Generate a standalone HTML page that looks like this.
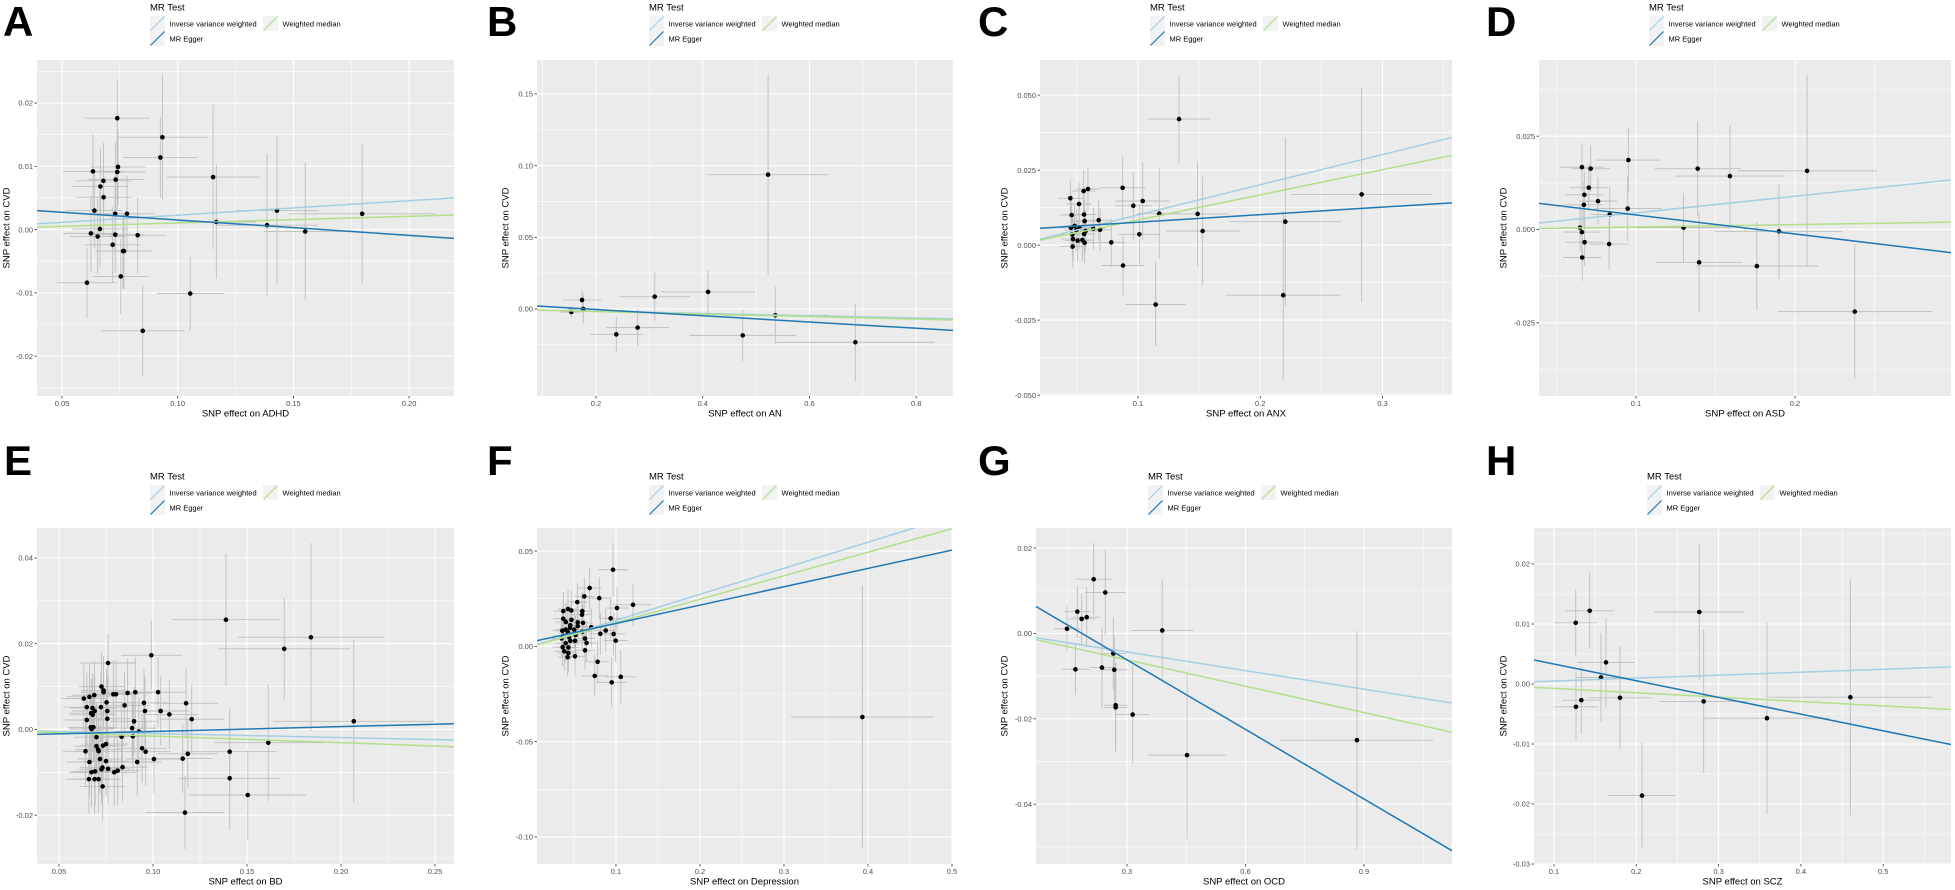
<!DOCTYPE html>
<html><head><meta charset="utf-8"><title>MR scatter plots</title>
<style>
html,body{margin:0;padding:0;background:#fff;}
svg{display:block;font-family:"Liberation Sans",Arial,sans-serif;}
</style></head>
<body>
<svg id="fig" width="1955" height="890" viewBox="0 0 1955 890" xmlns="http://www.w3.org/2000/svg"></svg>
<script>
// ---- Data: [beta_exposure, beta_outcome, x-halfwidth, y-halfwidth]
const adhdPoints = [[0.0739,0.0176,0.014,0.006],[0.0934,0.0146,0.0195,0.0099],[0.0925,0.0114,0.0162,0.0064],[0.1153,0.0083,0.02,0.0114],[0.1167,0.0012,0.017,0.009],[0.1429,0.003,0.018,0.0118],[0.1386,0.0007,0.022,0.0113],[0.1551,-0.0003,0.018,0.0109],[0.1797,0.0025,0.0317,0.0111],[0.1054,-0.0101,0.0144,0.0059],[0.0849,-0.016,0.018,0.0072],[0.0608,-0.0084,0.013,0.0055],[0.0634,0.0092,0.013,0.0058],[0.0666,0.0068,0.012,0.006],[0.0679,0.0077,0.012,0.006],[0.068,0.0051,0.012,0.006],[0.064,0.003,0.012,0.006],[0.0732,0.0079,0.012,0.006],[0.0739,0.0091,0.012,0.006],[0.0742,0.0099,0.012,0.006],[0.073,0.0025,0.012,0.006],[0.0781,0.0025,0.012,0.006],[0.0625,-0.0006,0.012,0.006],[0.0664,0.0001,0.012,0.006],[0.0654,-0.0011,0.012,0.006],[0.073,-0.0008,0.012,0.006],[0.0827,-0.0009,0.012,0.006],[0.0719,-0.0024,0.012,0.006],[0.0764,-0.0034,0.012,0.006],[0.0768,-0.0034,0.012,0.006],[0.0754,-0.0074,0.012,0.006]];
const anPoints = [[0.5224,0.0937,0.112,0.0697],[0.1537,-0.0021,0.02,0.004],[0.1738,0.0063,0.036,0.0065],[0.1762,0,0.03,0.0098],[0.238,-0.0177,0.05,0.012],[0.278,-0.013,0.059,0.013],[0.31,0.0086,0.066,0.0167],[0.41,0.0119,0.088,0.0153],[0.475,-0.0184,0.1,0.018],[0.536,-0.0044,0.1,0.02],[0.686,-0.0232,0.148,0.027]];
const anxPoints = [[0.1336,0.042,0.026,0.0147],[0.2829,0.0169,0.058,0.0357],[0.2205,0.0078,0.046,0.028],[0.2188,-0.0167,0.047,0.028],[0.1145,-0.0198,0.0245,0.014],[0.1488,0.0104,0.026,0.0175],[0.1529,0.0047,0.03,0.018],[0.1174,0.0105,0.018,0.015],[0.0875,0.0191,0.019,0.0107],[0.0962,0.0131,0.015,0.011],[0.1039,0.0147,0.022,0.013],[0.1011,0.0036,0.017,0.01],[0.0878,-0.0068,0.0175,0.01],[0.0782,0.0009,0.012,0.008],[0.0447,0.0156,0.01,0.006],[0.0458,0.01,0.01,0.007],[0.0518,0.0137,0.01,0.007],[0.0556,0.018,0.01,0.007],[0.0591,0.0187,0.01,0.007],[0.0559,0.0102,0.01,0.007],[0.0564,0.008,0.01,0.007],[0.0679,0.0083,0.01,0.007],[0.0452,0.0058,0.01,0.007],[0.0482,0.0064,0.01,0.007],[0.0521,0.0058,0.01,0.007],[0.0463,0.0035,0.01,0.007],[0.0496,0.005,0.01,0.007],[0.0572,0.0047,0.01,0.007],[0.056,0.0037,0.01,0.007],[0.0635,0.0055,0.01,0.007],[0.069,0.0051,0.01,0.007],[0.0469,0.002,0.01,0.007],[0.0507,0.0015,0.01,0.007],[0.0545,0.0017,0.01,0.007],[0.0564,0.0008,0.01,0.007],[0.0466,-0.0005,0.01,0.007]];
const asdPoints = [[0.2076,0.0157,0.0437,0.0256],[0.1388,0.0163,0.027,0.0127],[0.1591,0.0143,0.0347,0.0136],[0.0952,0.0186,0.0202,0.0087],[0.0948,0.0056,0.021,0.0087],[0.1299,0.0005,0.03,0.0092],[0.1397,-0.0088,0.027,0.0134],[0.176,-0.0098,0.0386,0.0118],[0.1899,-0.0005,0.0403,0.0127],[0.2376,-0.022,0.0485,0.018],[0.066,0.0167,0.014,0.0063],[0.0715,0.0163,0.012,0.0063],[0.0703,0.0112,0.012,0.0063],[0.0675,0.0093,0.012,0.0063],[0.0761,0.0076,0.012,0.0063],[0.0672,0.0066,0.012,0.0063],[0.0835,0.004,0.012,0.0075],[0.0648,0.0005,0.012,0.0063],[0.066,-0.0007,0.012,0.0063],[0.0677,-0.0034,0.012,0.0063],[0.0831,-0.0039,0.012,0.0068],[0.0662,-0.0075,0.012,0.0063]];
const bdPoints = [[0.1388,0.0256,0.0285,0.0154],[0.184,0.0215,0.039,0.022],[0.1698,0.0188,0.035,0.012],[0.2068,0.0019,0.043,0.019],[0.1613,-0.0031,0.029,0.0136],[0.1408,-0.0052,0.025,0.01],[0.1408,-0.0114,0.027,0.012],[0.1504,-0.0153,0.031,0.0105],[0.117,-0.0194,0.021,0.0085],[0.0991,0.0173,0.016,0.008],[0.0761,0.0155,0.015,0.0067],[0.1176,0.0061,0.017,0.008],[0.1206,0.0024,0.017,0.008],[0.1158,-0.0068,0.016,0.008],[0.1185,-0.0057,0.016,0.008],[0.1027,0.0087,0.015,0.008],[0.1041,0.0043,0.015,0.008],[0.1087,0.0035,0.015,0.008],[0.1005,-0.0069,0.015,0.008],[0.0952,0.0062,0.013,0.008],[0.0957,0.0043,0.013,0.008],[0.0906,0.0087,0.013,0.008],[0.0865,0.0085,0.013,0.008],[0.0849,0.0056,0.013,0.008],[0.0899,0.0019,0.013,0.008],[0.0889,0.0003,0.013,0.008],[0.0893,-0.0016,0.013,0.008],[0.0925,-0.0005,0.013,0.008],[0.0833,-0.0017,0.013,0.008],[0.0942,-0.0044,0.013,0.008],[0.0961,-0.0052,0.013,0.008],[0.0916,-0.0076,0.013,0.008],[0.0838,-0.0088,0.013,0.008],[0.0789,0.0082,0.012,0.008],[0.0803,0.0082,0.012,0.008],[0.0726,0.01,0.012,0.008],[0.0737,0.0091,0.012,0.008],[0.0737,0.0087,0.012,0.008],[0.0688,0.008,0.012,0.008],[0.0632,0.0072,0.012,0.008],[0.0662,0.0076,0.012,0.008],[0.0648,0.0052,0.012,0.008],[0.0678,0.005,0.012,0.008],[0.0723,0.0052,0.012,0.008],[0.0753,0.0063,0.012,0.008],[0.069,0.0043,0.012,0.008],[0.0757,0.0043,0.012,0.008],[0.0671,0.0038,0.012,0.008],[0.0679,0.0034,0.012,0.008],[0.0648,0.0022,0.012,0.008],[0.0757,0.0025,0.012,0.008],[0.0669,0.0005,0.012,0.008],[0.0683,0.0005,0.012,0.008],[0.0673,0.0001,0.012,0.008],[0.0699,-0.0018,0.012,0.008],[0.0699,-0.0039,0.012,0.008],[0.0708,-0.0047,0.012,0.008],[0.0711,-0.0051,0.012,0.008],[0.0734,-0.0038,0.012,0.008],[0.075,-0.0034,0.012,0.008],[0.0641,-0.0051,0.012,0.008],[0.0662,-0.0076,0.012,0.008],[0.0718,-0.0069,0.012,0.008],[0.075,-0.0074,0.012,0.008],[0.0673,-0.01,0.012,0.008],[0.0692,-0.0098,0.012,0.008],[0.0726,-0.0093,0.012,0.008],[0.0731,-0.0089,0.012,0.008],[0.0761,-0.0092,0.012,0.008],[0.0794,-0.01,0.012,0.008],[0.0812,-0.0096,0.012,0.008],[0.0659,-0.0116,0.012,0.008],[0.0689,-0.0116,0.012,0.008],[0.0711,-0.0116,0.012,0.008],[0.0732,-0.0133,0.012,0.008]];
const depPoints = [[0.3933,-0.0371,0.0853,0.069],[0.0965,0.0402,0.018,0.014],[0.0687,0.0306,0.014,0.011],[0.0801,0.0253,0.014,0.011],[0.0623,0.0262,0.012,0.01],[0.054,0.0232,0.012,0.01],[0.1203,0.0218,0.022,0.011],[0.1012,0.0201,0.014,0.011],[0.0599,0.0185,0.012,0.01],[0.0429,0.0196,0.012,0.01],[0.0373,0.0185,0.012,0.01],[0.0468,0.0188,0.012,0.01],[0.0595,0.0166,0.012,0.01],[0.0937,0.0147,0.014,0.011],[0.0372,0.0145,0.012,0.01],[0.047,0.0139,0.012,0.01],[0.0403,0.0128,0.012,0.01],[0.0545,0.0126,0.012,0.01],[0.0607,0.0123,0.012,0.01],[0.0545,0.0106,0.012,0.01],[0.0457,0.0111,0.012,0.01],[0.0706,0.01,0.012,0.01],[0.0878,0.0083,0.014,0.011],[0.0453,0.0097,0.012,0.01],[0.0504,0.0088,0.012,0.01],[0.0401,0.0088,0.012,0.01],[0.0361,0.0082,0.012,0.01],[0.0425,0.0075,0.012,0.01],[0.0599,0.0077,0.012,0.01],[0.0814,0.0066,0.014,0.011],[0.0972,0.0065,0.014,0.011],[0.0519,0.006,0.012,0.01],[0.0372,0.0055,0.012,0.01],[0.0441,0.005,0.012,0.01],[0.0631,0.0041,0.012,0.01],[0.0353,0.0042,0.012,0.01],[0.0457,0.0029,0.012,0.01],[0.0513,0.0029,0.012,0.01],[0.0997,0.003,0.014,0.011],[0.065,0.0018,0.012,0.01],[0.0401,0.0016,0.012,0.01],[0.0365,-0.0004,0.012,0.01],[0.0433,-0.0006,0.012,0.01],[0.0631,-0.0021,0.012,0.01],[0.0385,-0.0026,0.012,0.01],[0.0433,-0.0035,0.012,0.01],[0.0512,-0.0052,0.012,0.01],[0.0425,-0.0057,0.012,0.01],[0.0782,-0.0081,0.014,0.011],[0.0747,-0.0155,0.016,0.011],[0.1057,-0.016,0.018,0.014],[0.0949,-0.0189,0.018,0.013]];
const ocdPoints = [[0.8823,-0.025,0.193,0.0256],[0.452,-0.0285,0.0975,0.0197],[0.3893,0.0007,0.0785,0.012],[0.2157,0.0127,0.0456,0.0085],[0.245,0.0096,0.052,0.01],[0.1742,0.0051,0.035,0.006],[0.1853,0.0034,0.035,0.006],[0.1979,0.0038,0.035,0.007],[0.148,0.0011,0.032,0.0055],[0.1695,-0.0084,0.035,0.006],[0.2367,-0.008,0.03,0.0095],[0.2653,-0.0047,0.032,0.0085],[0.2678,-0.0085,0.032,0.008],[0.2714,-0.0168,0.03,0.01],[0.2714,-0.0173,0.03,0.0105],[0.3144,-0.019,0.0415,0.0115]];
const sczPoints = [[0.1434,0.0122,0.03,0.0064],[0.1264,0.0102,0.026,0.0056],[0.2765,0.012,0.0547,0.0113],[0.1632,0.0036,0.035,0.0074],[0.1571,0.0011,0.03,0.0074],[0.1802,-0.0023,0.038,0.0086],[0.1332,-0.0027,0.023,0.0056],[0.1267,-0.0038,0.027,0.0057],[0.2819,-0.0029,0.054,0.012],[0.3588,-0.0057,0.0765,0.0159],[0.4601,-0.0022,0.099,0.0197],[0.2069,-0.0186,0.041,0.0089]];
// ---- Fitted MR lines per panel (A..H)
const ivwSlope = [0.0228,-0.0078,0.1006,0.0445,-0.0095,0.1366,-0.0145,0.0049];
const wmSlope = [0.0105,-0.0088,0.0838,0.0066,-0.0155,0.1235,-0.0206,-0.0073];
const eggerSlope = [-0.0243,-0.0218,0.0252,-0.051,0.0113,0.0962,-0.0543,-0.0278];
const eggerIntercept = [0.00395,0.004,0.0051,0.009,-0.0016,0.0024,0.0101,0.0061];
// ---- Tick values & labels
const xTicksA = [0.05,0.10,0.15,0.20], xLabA = ["0.05","0.10","0.15","0.20"];
const yTicksA = [-0.02,-0.01,0,0.01,0.02], yLabA = ["-0.02","-0.01","0.00","0.01","0.02"];
const xTicksB = [0.2,0.4,0.6,0.8], xLabB = ["0.2","0.4","0.6","0.8"];
const yTicksB = [0,0.05,0.10,0.15], yLabB = ["0.00","0.05","0.10","0.15"];
const xTicksC = [0.1,0.2,0.3], xLabC = ["0.1","0.2","0.3"];
const yTicksC = [-0.05,-0.025,0,0.025,0.05], yLabC = ["-0.050","-0.025","0.000","0.025","0.050"];
const xTicksD = [0.1,0.2], xLabD = ["0.1","0.2"];
const yTicksD = [-0.025,0,0.025], yLabD = ["-0.025","0.000","0.025"];
const xTicksE = [0.05,0.10,0.15,0.20,0.25], xLabE = ["0.05","0.10","0.15","0.20","0.25"];
const yTicksE = [-0.02,0,0.02,0.04], yLabE = ["-0.02","0.00","0.02","0.04"];
const xTicksF = [0.1,0.2,0.3,0.4,0.5], xLabF = ["0.1","0.2","0.3","0.4","0.5"];
const yTicksF = [-0.10,-0.05,0,0.05], yLabF = ["-0.10","-0.05","0.00","0.05"];
const xTicksG = [0.3,0.6,0.9], xLabG = ["0.3","0.6","0.9"];
const yTicksG = [-0.04,-0.02,0,0.02], yLabG = ["-0.04","-0.02","0.00","0.02"];
const xTicksH = [0.1,0.2,0.3,0.4,0.5], xLabH = ["0.1","0.2","0.3","0.4","0.5"];
const yTicksH = [-0.03,-0.02,-0.01,0,0.01,0.02], yLabH = ["-0.03","-0.02","-0.01","0.00","0.01","0.02"];
const exposures = ["ADHD","AN","ANX","ASD","BD","Depression","OCD","SCZ"];

const panels = [
 {L:"A",pts:adhdPoints,ox:37,oy:60,w:417,h:336,xl:[0.0392,0.2194],yl:[-0.0263,0.0268],xt:xTicksA,xs:xLabA,yt:yTicksA,ys:yLabA,lx:150,ly:7,kx:3,ky:36,yto:31},
 {L:"B",pts:anPoints,ox:537,oy:60,w:416,h:336,xl:[0.0894,0.869],yl:[-0.0607,0.1737],xt:xTicksB,xs:xLabB,yt:yTicksB,ys:yLabB,lx:649,ly:7,kx:487,ky:36,yto:32},
 {L:"C",pts:anxPoints,ox:1040,oy:60,w:412,h:336,xl:[0.0199,0.3568],yl:[-0.0503,0.0617],xt:xTicksC,xs:xLabC,yt:yTicksC,ys:yLabC,lx:1150,ly:7,kx:978,ky:36,yto:36},
 {L:"D",pts:asdPoints,ox:1539,oy:60,w:412,h:336,xl:[0.039,0.2981],yl:[-0.0446,0.0454],xt:xTicksD,xs:xLabD,yt:yTicksD,ys:yLabD,lx:1649,ly:7,kx:1486,ky:36,yto:36},
 {L:"E",pts:bdPoints,ox:37,oy:528,w:417,h:336,xl:[0.0383,0.2601],yl:[-0.0314,0.047],xt:xTicksE,xs:xLabE,yt:yTicksE,ys:yLabE,lx:150,ly:476,kx:4,ky:475,yto:31},
 {L:"F",pts:depPoints,ox:537,oy:528,w:415,h:336,xl:[0.006,0.500],yl:[-0.1142,0.0621],xt:xTicksF,xs:xLabF,yt:yTicksF,ys:yLabF,lx:649,ly:476,kx:487,ky:475,yto:32},
 {L:"G",pts:ocdPoints,ox:1036,oy:528,w:416,h:336,xl:[0.0696,1.123],yl:[-0.054,0.0247],xt:xTicksG,xs:xLabG,yt:yTicksG,ys:yLabG,lx:1148,ly:476,kx:978,ky:475,yto:32},
 {L:"H",pts:sczPoints,ox:1534,oy:528,w:417,h:336,xl:[0.0757,0.5824],yl:[-0.03,0.026],xt:xTicksH,xs:xLabH,yt:yTicksH,ys:yLabH,lx:1647,ly:476,kx:1486,ky:475,yto:31}
];
const NS="http://www.w3.org/2000/svg";
const svg=document.getElementById('fig');
function mk(tag,attrs,parent){const e=document.createElementNS(NS,tag);for(const k in attrs)e.setAttribute(k,attrs[k]);(parent||svg).appendChild(e);return e;}
const defs=mk('defs',{});
panels.forEach((p,i)=>{
  const g=mk('g',{});
  
  
  const sx=v=>p.ox+(v-p.xl[0])/(p.xl[1]-p.xl[0])*p.w;
  const sy=v=>p.oy+p.h-(v-p.yl[0])/(p.yl[1]-p.yl[0])*p.h;
  // panel letter
  const let_=mk('text',{x:p.kx,y:p.ky,'font-size':42,'font-weight':'bold',fill:'#000'},g);
  let_.textContent=p.L;
  
  
  // background
  const bg=mk('rect',{x:p.ox,y:p.oy,width:p.w,height:p.h,fill:'#EBEBEB'},g);
  
  
  const cp=mk('clipPath',{id:'clip'+i},defs);mk('rect',{x:p.ox,y:p.oy,width:p.w,height:p.h},cp);
  const inner=mk('g',{'clip-path':'url(#clip'+i+')'},g);
  // minor grid
  const xs=p.xt[1]-p.xt[0], ys=p.yt[1]-p.yt[0];
  for(let v=p.xt[0]-xs*1.5; v<=p.xl[1]+xs; v+=xs){const X=sx(v); if(X>p.ox&&X<p.ox+p.w) mk('line',{x1:X,x2:X,y1:p.oy,y2:p.oy+p.h,stroke:'#fff','stroke-width':0.6},inner);}
  for(let v=p.yt[0]-ys*1.5; v<=p.yl[1]+ys; v+=ys){const Y=sy(v); if(Y>p.oy&&Y<p.oy+p.h) mk('line',{x1:p.ox,x2:p.ox+p.w,y1:Y,y2:Y,stroke:'#fff','stroke-width':0.6},inner);}
  // major grid + ticks
  p.xt.forEach((v,j)=>{const X=sx(v);
    mk('line',{x1:X,x2:X,y1:p.oy,y2:p.oy+p.h,stroke:'#fff','stroke-width':1.1},inner);
    mk('line',{x1:X,x2:X,y1:p.oy+p.h,y2:p.oy+p.h+2.5,stroke:'#333','stroke-width':0.8},g);
    const t=mk('text',{x:X,y:p.oy+p.h+10,'font-size':7.5,fill:'#4D4D4D','text-anchor':'middle'},g);t.textContent=p.xs[j];
    
    });
  p.yt.forEach((v,j)=>{const Y=sy(v);
    mk('line',{x1:p.ox,x2:p.ox+p.w,y1:Y,y2:Y,stroke:'#fff','stroke-width':1.1},inner);
    mk('line',{x1:p.ox-2.5,x2:p.ox,y1:Y,y2:Y,stroke:'#333','stroke-width':0.8},g);
    const t=mk('text',{x:p.ox-4,y:Y+2.7,'font-size':7.5,fill:'#4D4D4D','text-anchor':'end'},g);t.textContent=p.ys[j];
    
    });
  // error bars
  p.pts.forEach(d=>{
    const eb=mk('g',{stroke:'#BEBEBE','stroke-width':0.9},inner);
    
    
    mk('line',{x1:sx(d[0]-d[2]),x2:sx(d[0]+d[2]),y1:sy(d[1]),y2:sy(d[1])},eb);
    mk('line',{x1:sx(d[0]),x2:sx(d[0]),y1:sy(d[1]-d[3]),y2:sy(d[1]+d[3])},eb);
  });
  // points
  p.pts.forEach(d=>{
    const c=mk('circle',{cx:sx(d[0]),cy:sy(d[1]),r:2.3,fill:'#000'},inner);
    
    
  });
  // MR lines
  const lines=[[0,ivwSlope[i],'#A6CEE3','ivw-line'],[0,wmSlope[i],'#B2DF8A','weighted-median-line'],[eggerIntercept[i],eggerSlope[i],'#1F78B4','mr-egger-line']];
  lines.forEach(l=>{
    const x0=p.xl[0],x1=p.xl[1];
    const ln=mk('line',{x1:sx(x0),y1:sy(l[0]+l[1]*x0),x2:sx(x1),y2:sy(l[0]+l[1]*x1),stroke:l[2],'stroke-width':1.5},inner);
    
    
  });
  // axis titles
  const xt=mk('text',{x:p.ox+p.w/2,y:p.oy+p.h+20.5,'font-size':9.5,fill:'#000','text-anchor':'middle'},g);
  xt.textContent='SNP effect on '+exposures[i];
  
  
  const yx=p.ox-p.yto, yc=p.oy+p.h/2;
  const yt=mk('text',{x:yx,y:yc,'font-size':9.5,fill:'#000','text-anchor':'middle',transform:'rotate(-90 '+yx+' '+yc+') translate(0 3.5)'},g);
  yt.textContent='SNP effect on CVD';
  
  
  // legend
  const lg=mk('g',{},g);
  
  
  const lt=mk('text',{x:p.lx,y:p.ly+3.5,'font-size':9.5,fill:'#000'},lg);lt.textContent='MR Test';
  const items=[[p.lx,p.ly+9,'#A6CEE3','Inverse variance weighted'],[p.lx+113,p.ly+9,'#B2DF8A','Weighted median'],[p.lx,p.ly+24,'#1F78B4','MR Egger']];
  items.forEach(it=>{
    const e=mk('g',{},lg);
    
    
    mk('rect',{x:it[0],y:it[1],width:15,height:15,fill:'#F2F2F2'},e);
    mk('line',{x1:it[0]+0.5,y1:it[1]+14.5,x2:it[0]+14.5,y2:it[1]+0.5,stroke:it[2],'stroke-width':1.2},e);
    const t=mk('text',{x:it[0]+19.5,y:it[1]+10.3,'font-size':7.5,fill:'#000'},e);t.textContent=it[3];
  });
});
</script>
</body></html>
